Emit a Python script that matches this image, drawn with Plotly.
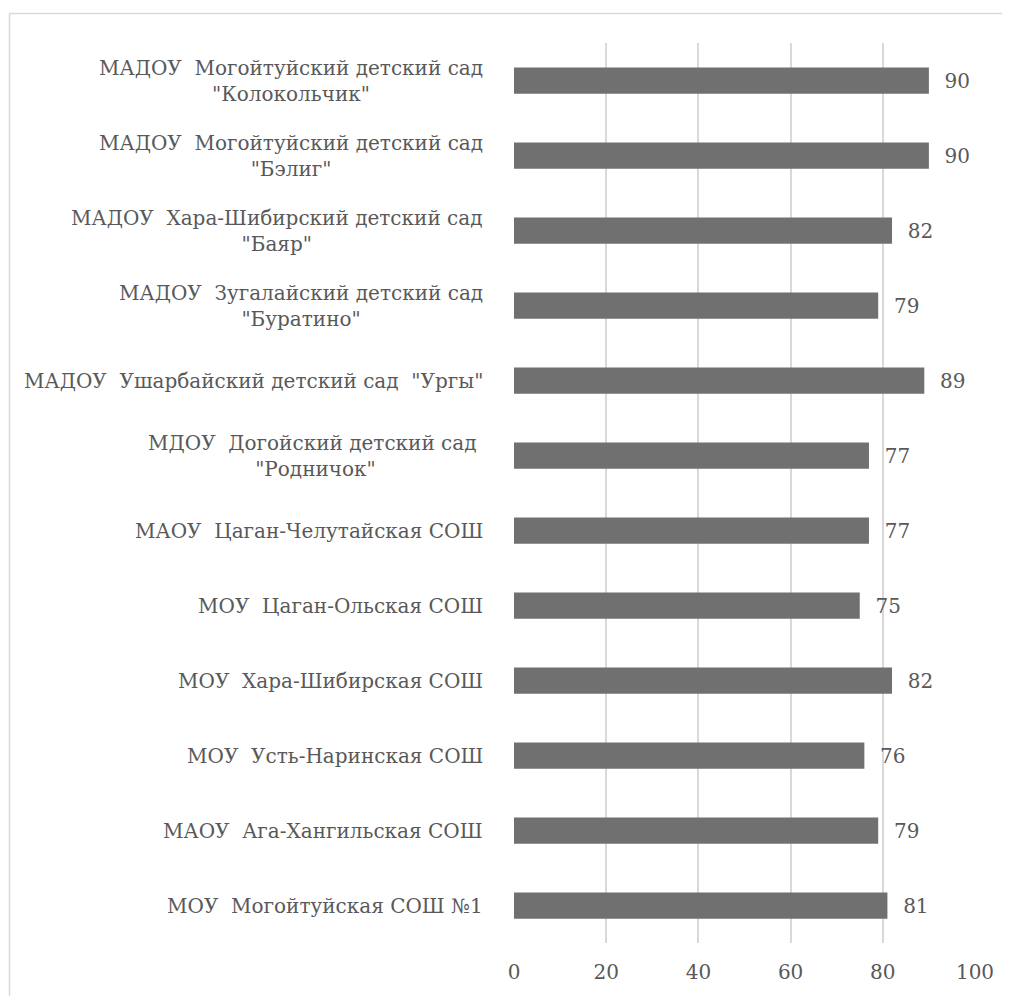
import plotly.graph_objects as go

# Categories listed bottom to top (as on the axis)
categories = [
    "МОУ  Могойтуйская СОШ №1",
    "МАОУ  Ага-Хангильская СОШ",
    "МОУ  Усть-Наринская СОШ",
    "МОУ  Хара-Шибирская СОШ",
    "МОУ  Цаган-Ольская СОШ",
    "МАОУ  Цаган-Челутайская СОШ",
    "МДОУ  Догойский детский сад <br>\"Родничок\"",
    "МАДОУ  Ушарбайский детский сад  \"Ургы\"",
    "МАДОУ  Зугалайский детский сад<br>\"Буратино\"",
    "МАДОУ  Хара-Шибирский детский сад<br>\"Баяр\"",
    "МАДОУ  Могойтуйский детский сад<br>\"Бэлиг\"",
    "МАДОУ  Могойтуйский детский сад<br>\"Колокольчик\"",
]
values = [81, 79, 76, 82, 75, 77, 77, 89, 79, 82, 90, 90]
x_ticks = [0, 20, 40, 60, 80, 100]

W, H = 1010, 996
ML, MR, MT, MB = 506, 43, 35, 61
PW, PH = W - ML - MR, H - MT - MB

FONT = "DejaVu Serif"
FS = 20
TXT = "#595959"
GRID = "#d9d9d9"

ids = list(range(len(categories)))

fig = go.Figure(go.Bar(
    y=ids, x=values, orientation="h",
    marker=dict(color="#707070", line=dict(width=0)),
    text=values, texttemplate="\u00a0\u00a0%{x}", textposition="outside",
    textfont=dict(family=FONT, size=FS, color=TXT),
    constraintext="none", cliponaxis=False,
    hoverinfo="skip",
))

def px2paperx(px):
    return (px - ML) / PW

def px2papery(py):
    return 1 - (py - MT) / PH

annotations = []
for i, c in enumerate(categories):
    annotations.append(dict(
        x=px2paperx(477), xref="paper", y=i, yref="y",
        text=c.replace("  ", "\u00a0\u00a0").replace(" <br>", "\u00a0<br>"),
        xanchor="right", yanchor="middle", align="center", showarrow=False,
        font=dict(family=FONT, size=FS, color=TXT),
    ))

fx, fy = 1.5, 5.5
shapes = [
    dict(type="line", xref="paper", yref="paper",
         x0=px2paperx(fx), x1=px2paperx(W + 20), y0=px2papery(fy), y1=px2papery(fy),
         line=dict(color=GRID, width=1.5), layer="below"),
    dict(type="line", xref="paper", yref="paper",
         x0=px2paperx(fx), x1=px2paperx(fx), y0=px2papery(fy), y1=px2papery(H + 20),
         line=dict(color=GRID, width=1.5), layer="below"),
]

fig.update_layout(
    width=W, height=H,
    margin=dict(l=ML, r=MR, t=MT, b=MB),
    paper_bgcolor="white", plot_bgcolor="white",
    bargap=0.65, showlegend=False,
    annotations=annotations,
    shapes=shapes,
    xaxis=dict(range=[0, 100], tickvals=x_ticks, showgrid=True, gridcolor=GRID,
               gridwidth=1.7, zeroline=False, showline=False, ticks="",
               tickfont=dict(family=FONT, size=FS, color=TXT), ticklabelstandoff=15),
    yaxis=dict(range=[-0.5, len(categories) - 0.5], showticklabels=False, showgrid=False,
               zeroline=False, showline=False, ticks=""),
)

fig.write_html("out.html")
